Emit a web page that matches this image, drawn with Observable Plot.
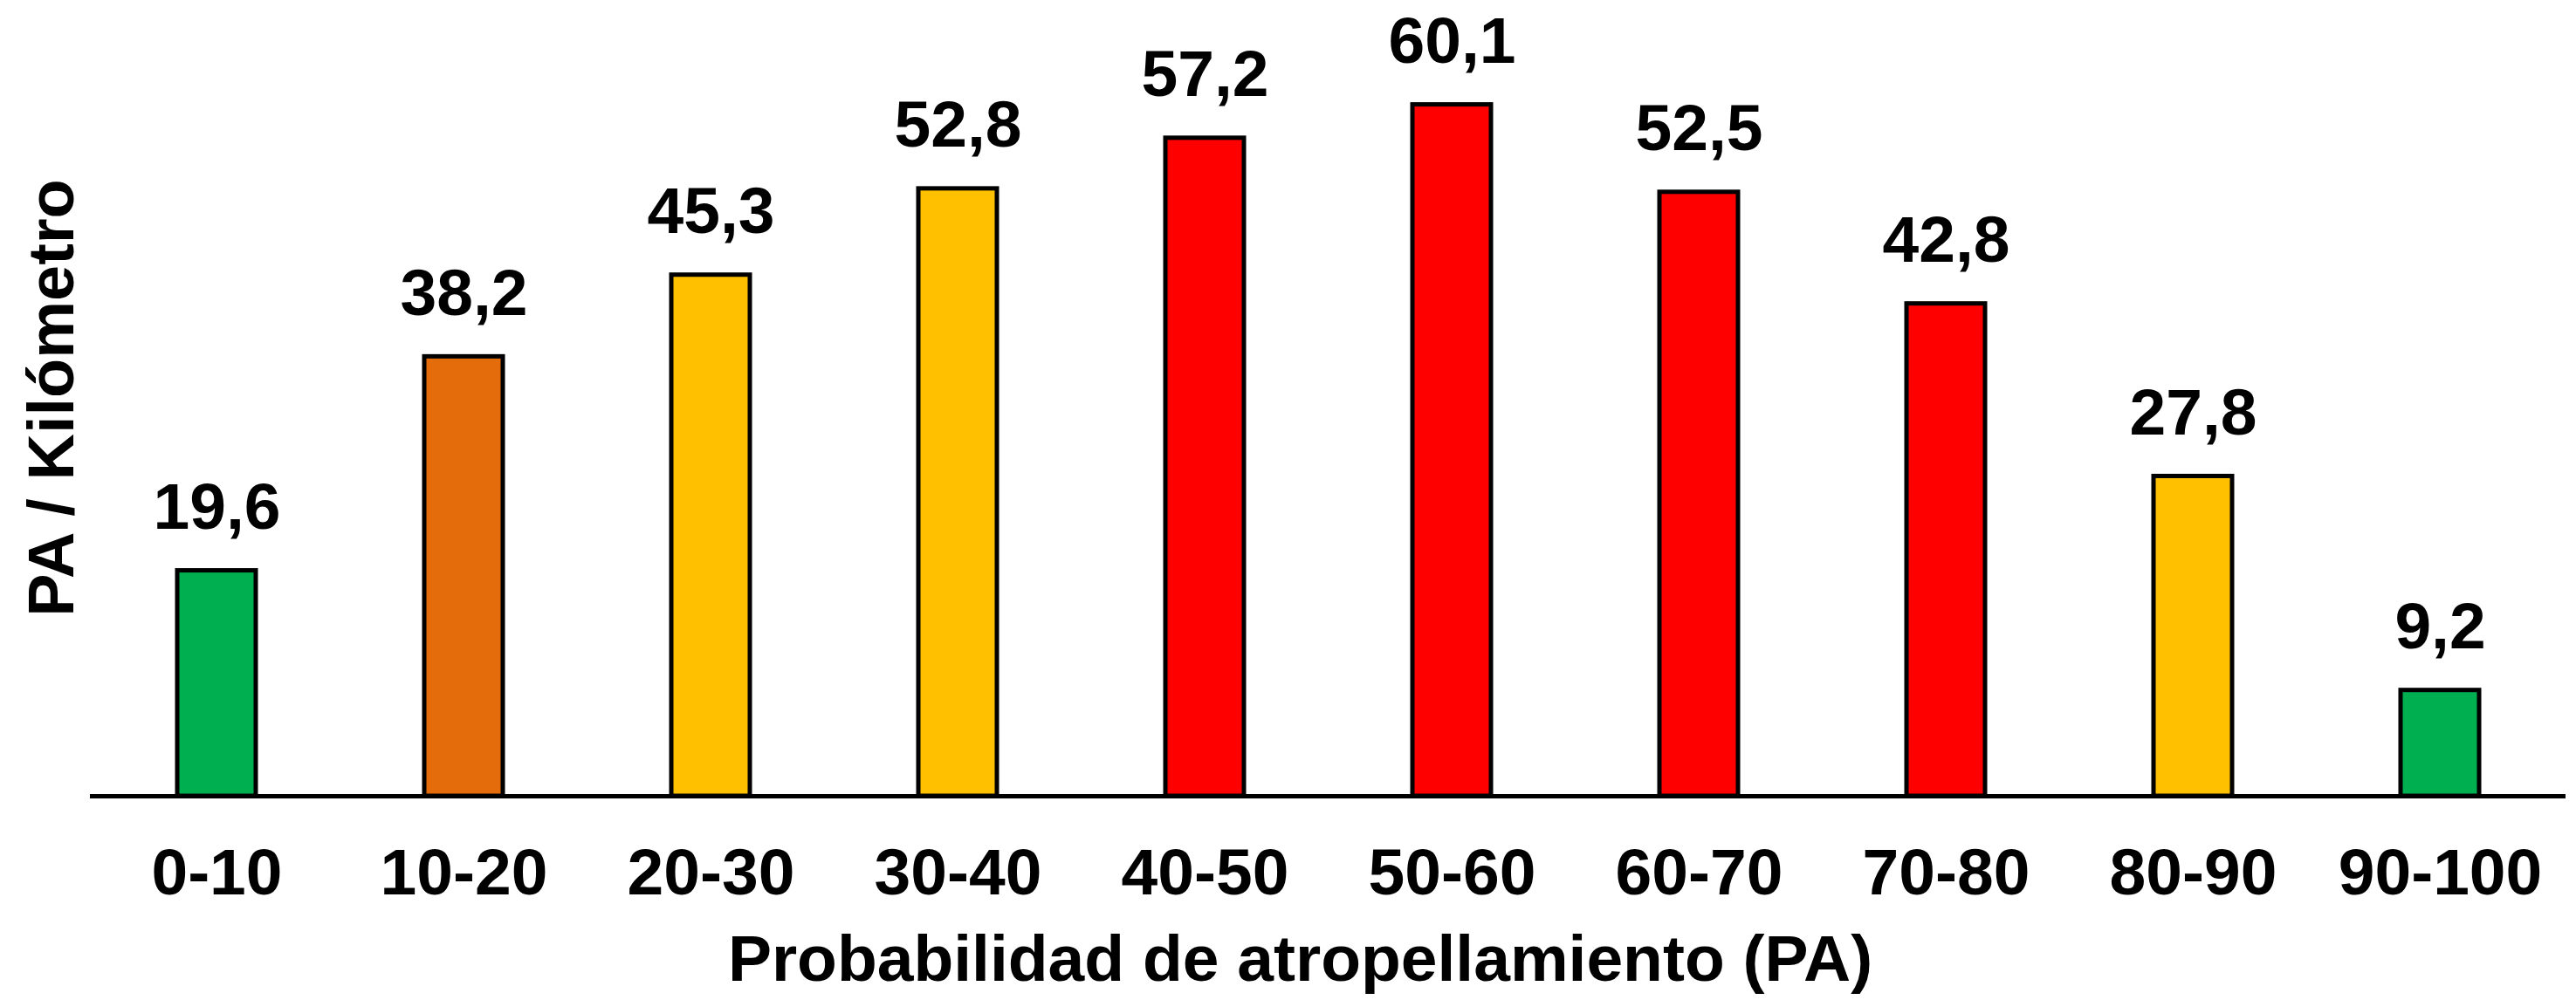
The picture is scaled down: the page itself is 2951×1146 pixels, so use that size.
<!DOCTYPE html>
<html>
<head>
<meta charset="utf-8">
<script src="https://cdn.jsdelivr.net/npm/d3@7"></script>
<script src="https://cdn.jsdelivr.net/npm/@observablehq/plot@0.6"></script>
<style>
  html, body { margin: 0; padding: 0; background: #fff; }
  #chart svg { display: block; }
</style>
</head>
<body>
<div id="chart"></div>
<script>
// Data
const categories = ["0-10", "10-20", "20-30", "30-40", "40-50", "50-60", "60-70", "70-80", "80-90", "90-100"];
const values = [19.6, 38.2, 45.3, 52.8, 57.2, 60.1, 52.5, 42.8, 27.8, 9.2];
const barColors = ["#00B050", "#E46C0A", "#FFC000", "#FFC000", "#FF0000", "#FF0000", "#FF0000", "#FF0000", "#FFC000", "#00B050"];
const xTitle = "Probabilidad de atropellamiento (PA)";
const yTitle = "PA / Kilómetro";

const data = categories.map((c, i) => ({cat: c, value: values[i], color: barColors[i], label: values[i].toFixed(1).replace(".", ",")}));

const W = 2951, H = 1146;
const font = "'Liberation Sans', Arial, Helvetica, sans-serif";

const chart = Plot.plot({
  width: W,
  height: H,
  marginLeft: 103,
  marginRight: 12,
  marginTop: 55,
  marginBottom: 234,
  style: {fontFamily: font, color: "#000", background: "#fff"},
  x: {domain: categories, paddingInner: 0.683, paddingOuter: 0.3415, label: null},
  y: {domain: [0, 65], axis: null},
  marks: [
    Plot.barY(data, {x: "cat", y: "value", fill: "color", stroke: "#000", strokeWidth: 5}),
    Plot.ruleY([0], {stroke: "#000", strokeWidth: 5}),
    Plot.text(data, {x: "cat", y: "value", text: "label", dy: -72, fontSize: 75, fontWeight: "bold", fill: "#000"}),
    Plot.axisX({tickSize: 0, tickPadding: 59, fontSize: 75, fontWeight: "bold", label: null, fill: "#000"}),
    Plot.text([xTitle], {frameAnchor: "bottom", textAnchor: "middle", dy: 211, dx: -32, fontSize: 75, fontWeight: "bold", fill: "#000"}),
    Plot.text([yTitle], {frameAnchor: "left", textAnchor: "middle", lineAnchor: "middle", rotate: -90, dx: -43, dy: -28, fontSize: 74, fontWeight: "bold", fill: "#000"})
  ]
});
document.getElementById("chart").appendChild(chart);
</script>
</body>
</html>
